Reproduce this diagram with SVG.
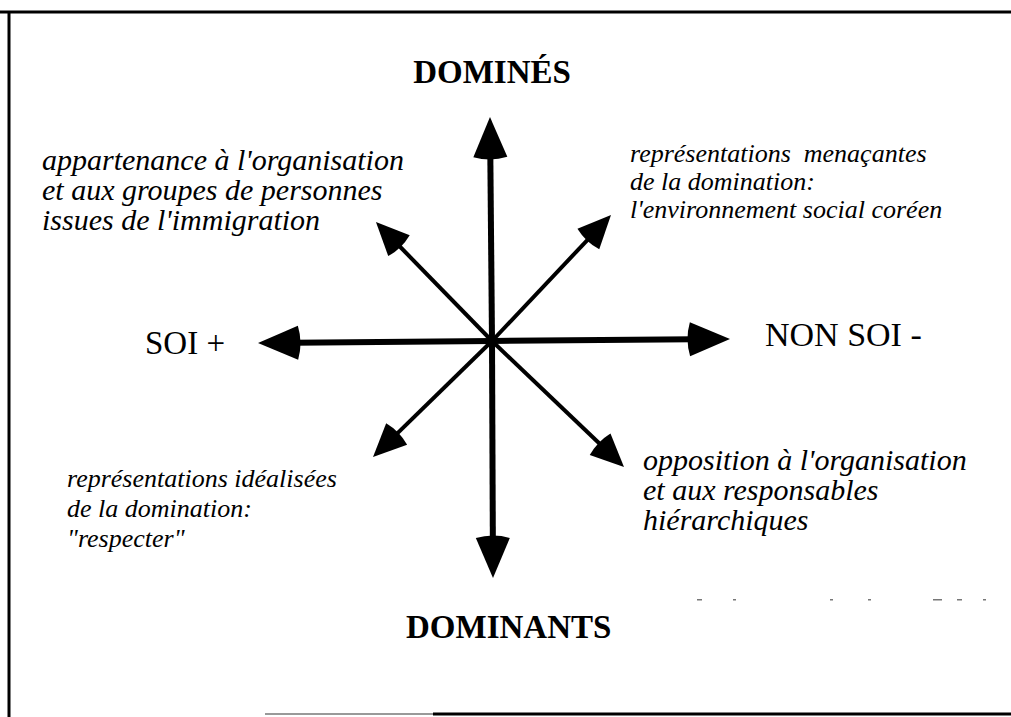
<svg xmlns="http://www.w3.org/2000/svg" width="1011" height="717" viewBox="0 0 1011 717">
<style>
.frame{stroke:#000;stroke-width:3;fill:none}
.axis{stroke:#000;stroke-width:6;fill:none;marker-end:url(#headBig)}
.diag{stroke:#000;stroke-width:4;fill:none;marker-end:url(#headSmall)}
.pole{font-family:"Liberation Serif","Times New Roman",serif;font-weight:bold;font-size:33px;fill:#000}
.side{font-family:"Liberation Serif","Times New Roman",serif;fill:#000}
.lab{font-family:"Liberation Serif","Times New Roman",serif;font-style:italic;fill:#000}
.speck{fill:#777}
</style>
<defs>
<marker id="headBig" markerUnits="userSpaceOnUse" orient="auto" refX="4" refY="0" markerWidth="50" markerHeight="40" overflow="visible">
<path d="M0,-17 L40,0 L0,17 Q-5,0 0,-17 Z" fill="#000"/>
</marker>
<marker id="headSmall" markerUnits="userSpaceOnUse" orient="auto" refX="3" refY="0" markerWidth="40" markerHeight="32" overflow="visible">
<path d="M0,-15 L33,0 L0,15 Q-4,0 0,-15 Z" fill="#000"/>
</marker>
</defs>
<rect width="1011" height="717" fill="#fff"/>
<g id="frame">
<line class="frame" x1="0" y1="12" x2="1011" y2="12"/>
<line class="frame" x1="9" y1="11" x2="9" y2="717"/>
<line x1="265" y1="714" x2="433" y2="714" stroke="#999" stroke-width="2"/>
<line class="frame" x1="433" y1="714" x2="1011" y2="714"/>
</g>
<g id="connectors">
<line class="axis" x1="492" y1="341" x2="490.3" y2="153"/>
<line class="axis" x1="492" y1="341" x2="492.85" y2="542"/>
<line class="axis" x1="492" y1="341" x2="294" y2="342.7"/>
<line class="axis" x1="492" y1="341" x2="694" y2="339.3"/>
<line class="diag" x1="492" y1="341" x2="396.9" y2="243.5"/>
<line class="diag" x1="492" y1="341" x2="590.4" y2="236.8"/>
<line class="diag" x1="492" y1="341" x2="394.5" y2="436.1"/>
<line class="diag" x1="492" y1="341" x2="602.3" y2="446.3"/>
</g>
<g id="domines"><text class="pole" x="492" y="83" text-anchor="middle">DOMINÉS</text></g>
<g id="dominants"><text class="pole" x="406" y="638">DOMINANTS</text></g>
<g id="soi"><text class="side" x="145" y="354" font-size="33">SOI +</text></g>
<g id="nonsoi"><text class="side" x="765" y="346" font-size="34">NON SOI -</text></g>
<g id="appartenance" class="lab" font-size="30">
<text x="42" y="170">appartenance à l'organisation</text>
<text x="42" y="200">et aux groupes de personnes</text>
<text x="42" y="230">issues de l'immigration</text>
</g>
<g id="menacantes" class="lab" font-size="26">
<text x="630" y="162">représentations&#160; menaçantes</text>
<text x="630" y="190">de la domination:</text>
<text x="630" y="218">l'environnement social coréen</text>
</g>
<g id="idealisees" class="lab" font-size="26">
<text x="67" y="487">représentations idéalisées</text>
<text x="67" y="517">de la domination:</text>
<text x="67" y="547">"respecter"</text>
</g>
<g id="opposition" class="lab" font-size="30">
<text x="643" y="470">opposition à l'organisation</text>
<text x="643" y="500">et aux responsables</text>
<text x="643" y="530">hiérarchiques</text>
</g>
<g id="specks">
<rect class="speck" x="697" y="599" width="5" height="1.5"/>
<rect class="speck" x="733" y="599" width="3" height="1.5"/>
<rect class="speck" x="830" y="599" width="3" height="1.5"/>
<rect class="speck" x="868" y="599" width="3" height="1.5"/>
<rect class="speck" x="933" y="599" width="9" height="1.5"/>
<rect class="speck" x="957" y="599" width="5" height="1.5"/>
<rect class="speck" x="983" y="599" width="3" height="1.5"/>
</g>
</svg>
